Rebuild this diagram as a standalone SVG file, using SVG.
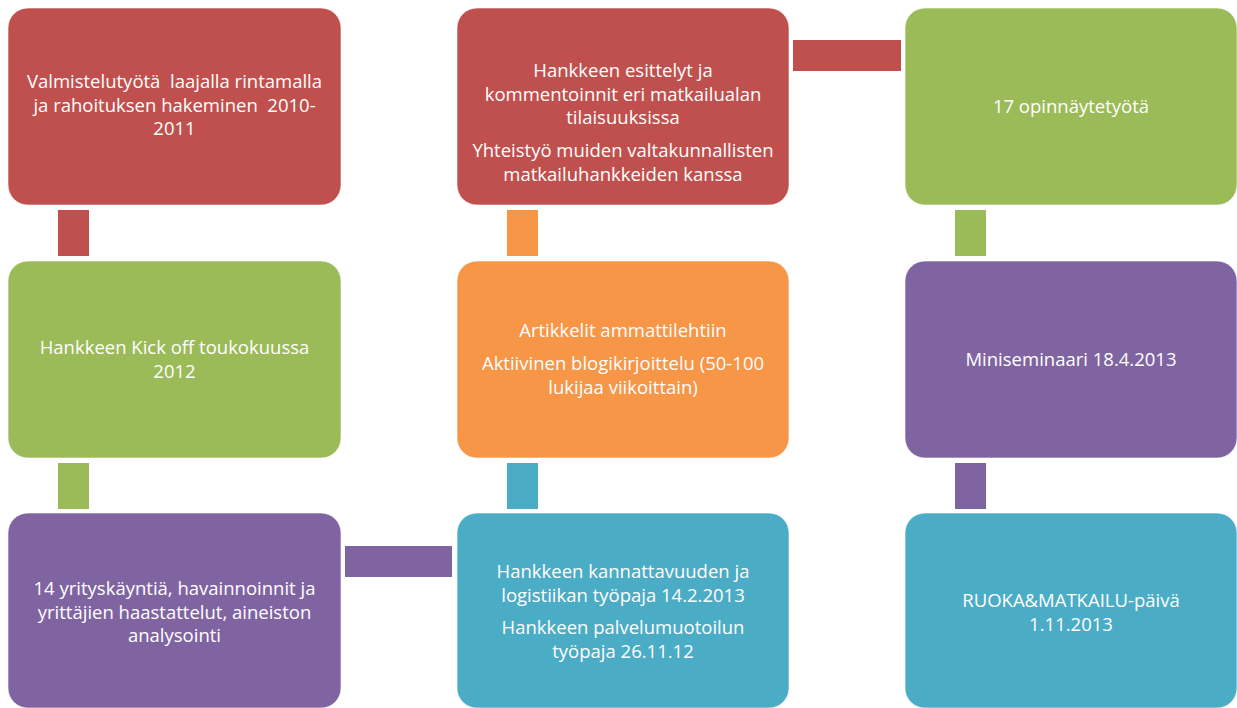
<svg xmlns="http://www.w3.org/2000/svg" width="1237" height="708" viewBox="0 0 1237 708">
<style>
.box{stroke:#ffffff;stroke-opacity:0.6;stroke-width:1}
.red{fill:#C0504D}.green{fill:#9BBB59}.purple{fill:#8064A2}.orange{fill:#F79646}.blue{fill:#4BACC6}
text{font-family:"Open Sans","Liberation Sans",sans-serif;font-size:18.5px;fill:#ffffff;text-anchor:middle;white-space:pre}
</style>
<rect width="1237" height="708" fill="#ffffff"/>
<g id="connectors">
<rect class="red" x="58" y="210" width="31" height="46"/>
<rect class="green" x="58" y="463" width="31" height="46"/>
<rect class="orange" x="507" y="210" width="31" height="46"/>
<rect class="blue" x="507" y="463" width="31" height="46"/>
<rect class="green" x="955" y="210" width="31" height="46"/>
<rect class="purple" x="955" y="463" width="31" height="46"/>
<rect class="red" x="793" y="40" width="108" height="31"/>
<rect class="purple" x="345" y="546" width="107" height="31"/>
</g>
<g id="n1">
<rect class="box red" x="8" y="8" width="333" height="197" rx="20"/>
<text x="174.5" y="88" xml:space="preserve">Valmistelutyötä  laajalla rintamalla</text>
<text x="174.5" y="111.5" xml:space="preserve">ja rahoituksen hakeminen  2010-</text>
<text x="174.5" y="135">2011</text>
</g>
<g id="n2">
<rect class="box red" x="457" y="8" width="332" height="197" rx="20"/>
<text x="623" y="77">Hankkeen esittelyt ja</text>
<text x="623" y="100.5">kommentoinnit eri matkailualan</text>
<text x="623" y="124">tilaisuuksissa</text>
<text x="623" y="157">Yhteistyö muiden valtakunnallisten</text>
<text x="623" y="180.5">matkailuhankkeiden kanssa</text>
</g>
<g id="n3">
<rect class="box green" x="905" y="8" width="332" height="197" rx="20"/>
<text x="1071" y="113">17 opinnäytetyötä</text>
</g>
<g id="n4">
<rect class="box green" x="8" y="261" width="333" height="197" rx="20"/>
<text x="174.5" y="354">Hankkeen Kick off toukokuussa</text>
<text x="174.5" y="377.5">2012</text>
</g>
<g id="n5">
<rect class="box orange" x="457" y="261" width="332" height="197" rx="20"/>
<text x="623" y="337">Artikkelit ammattilehtiin</text>
<text x="623" y="370">Aktiivinen blogikirjoittelu (50-100</text>
<text x="623" y="393.5">lukijaa viikoittain)</text>
</g>
<g id="n6">
<rect class="box purple" x="905" y="261" width="332" height="197" rx="20"/>
<text x="1071" y="366">Miniseminaari 18.4.2013</text>
</g>
<g id="n7">
<rect class="box purple" x="8" y="513" width="333" height="195" rx="20"/>
<text x="174.5" y="595">14 yrityskäyntiä, havainnoinnit ja</text>
<text x="174.5" y="618.5">yrittäjien haastattelut, aineiston</text>
<text x="174.5" y="642">analysointi</text>
</g>
<g id="n8">
<rect class="box blue" x="457" y="513" width="332" height="195" rx="20"/>
<text x="623" y="578">Hankkeen kannattavuuden ja</text>
<text x="623" y="601.5">logistiikan työpaja 14.2.2013</text>
<text x="623" y="634">Hankkeen palvelumuotoilun</text>
<text x="623" y="657.5">työpaja 26.11.12</text>
</g>
<g id="n9">
<rect class="box blue" x="905" y="513" width="332" height="195" rx="20"/>
<text x="1071" y="607">RUOKA&amp;MATKAILU-päivä</text>
<text x="1071" y="630.5">1.11.2013</text>
</g>
</svg>
